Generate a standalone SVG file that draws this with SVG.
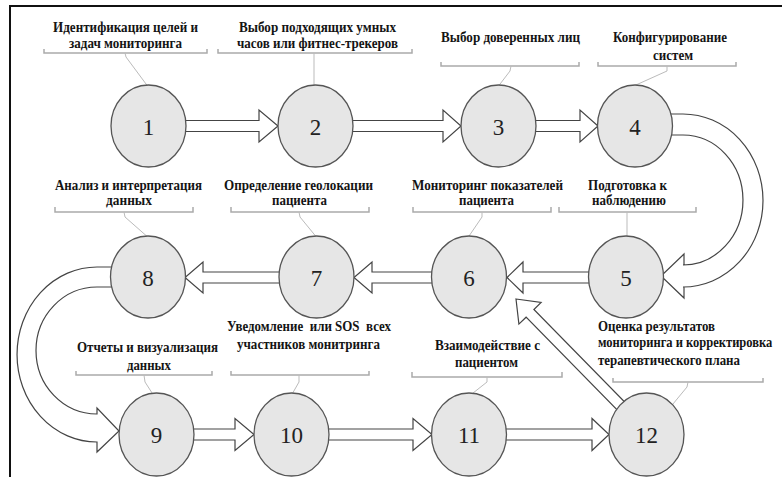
<svg xmlns="http://www.w3.org/2000/svg" width="782" height="477" viewBox="0 0 782 477">
<style>
.node ellipse{fill:#e6e6e6;stroke:#555;stroke-width:1.3}
.num{font-family:"Liberation Serif","Times New Roman",serif;font-size:23px;text-anchor:middle;fill:#222}
.lbl{font-family:"Liberation Serif","Times New Roman",serif;font-weight:bold;font-size:15px;fill:#141414}
.c{text-anchor:middle}
.br{fill:none;stroke:#aaa;stroke-width:1.5}
.ld{fill:none;stroke:#bbb;stroke-width:1}
.arr{fill:#fff;stroke:#444;stroke-width:1.2;stroke-linejoin:miter}
.frame{fill:none;stroke:#111;stroke-width:2}
</style>
<rect x="0" y="0" width="782" height="477" fill="#fff"/>
<path class="frame" d="M10,477 L10,6 L782,6"/>
<g id="connectors">
<polygon class="arr" points="180,120.5 259,120.5 259,110 278,126 259,142 259,131.5 180,131.5"/>
<polygon class="arr" points="348,120.5 443,120.5 443,110 461,126 443,142 443,131.5 348,131.5"/>
<polygon class="arr" points="530,120.5 580,120.5 580,110 598,126 580,142 580,131.5 530,131.5"/>
<path class="arr" d="M668,114 L683,114 A80,86.5 0 0 1 683,287 L684,287 L684,298 L661,276 L684,254 L684,265 L683,265 A60,65 0 0 0 683,135 L668,135 Z"/>
<polygon class="arr" points="595,272 523,272 523,262 507,277.5 523,293 523,283 595,283"/>
<polygon class="arr" points="437,272 372,272 372,262 354,277.5 372,293 372,283 437,283"/>
<polygon class="arr" points="285,272 203,272 203,262 185,277.5 203,293 203,283 285,283"/>
<path class="arr" d="M115,267 L97,267 A80,87.5 0 0 0 97,442 L97,452 L119,431 L97,408 L97,414 A61,63.5 0 0 1 97,287 L115,287 Z"/>
<polygon class="arr" points="188,429 235,429 235,418.5 254,434.5 235,450.5 235,440 188,440"/>
<polygon class="arr" points="323,429 413,429 413,418.5 432,434.5 413,450.5 413,440 323,440"/>
<polygon class="arr" points="500,429 592,429 592,418.5 609,434.5 592,450.5 592,440 500,440"/>
<polygon class="arr" points="516,299 541.1,302.4 533.9,309.5 628.4,405.8 620.6,413.5 526.1,317.2 518.9,324.1"/>
</g>
<g id="node1" class="node">
<text class="lbl c" x="125.5" y="32" textLength="145" lengthAdjust="spacingAndGlyphs">Идентификация целей и</text>
<text class="lbl c" x="125.5" y="47.5" textLength="113" lengthAdjust="spacingAndGlyphs">задач мониторинга</text>
<path class="br" d="M44,49 L44,53 L207,53 L207,49"/>
<polyline class="ld" points="125,53 126,57 149,88"/>
<ellipse cx="148.5" cy="126" rx="37.5" ry="41"/>
<text class="num" x="148.5" y="135">1</text>
</g>
<g id="node2" class="node">
<text class="lbl c" x="317.5" y="32" textLength="157" lengthAdjust="spacingAndGlyphs">Выбор подходящих умных</text>
<text class="lbl c" x="317.5" y="47.5" textLength="161" lengthAdjust="spacingAndGlyphs">часов или фитнес-трекеров</text>
<path class="br" d="M218,49 L218,53 L412,53 L412,49"/>
<polyline class="ld" points="314,53 314,88"/>
<ellipse cx="315.5" cy="126" rx="37.5" ry="41"/>
<text class="num" x="315.5" y="135">2</text>
</g>
<g id="node3" class="node">
<text class="lbl c" x="510.5" y="42" textLength="139" lengthAdjust="spacingAndGlyphs">Выбор доверенных лиц</text>
<path class="br" d="M441,62 L441,66 L579,66 L579,62"/>
<polyline class="ld" points="511,66 510,71 497,88"/>
<ellipse cx="498.5" cy="126" rx="37.5" ry="41"/>
<text class="num" x="498.5" y="135">3</text>
</g>
<g id="node4" class="node">
<text class="lbl c" x="670" y="42" textLength="114" lengthAdjust="spacingAndGlyphs">Конфигурирование</text>
<text class="lbl c" x="673" y="59.5" textLength="40" lengthAdjust="spacingAndGlyphs">систем</text>
<path class="br" d="M598,62 L598,66 L736,66 L736,62"/>
<polyline class="ld" points="667,66 667,71 627,89"/>
<ellipse cx="635" cy="126" rx="37.5" ry="41"/>
<text class="num" x="635" y="135">4</text>
</g>
<g id="node5" class="node">
<text class="lbl c" x="627.5" y="190" textLength="79" lengthAdjust="spacingAndGlyphs">Подготовка к</text>
<text class="lbl c" x="629" y="205" textLength="74" lengthAdjust="spacingAndGlyphs">наблюдению</text>
<path class="br" d="M559,207 L559,212 L696,212 L696,207"/>
<polyline class="ld" points="627,212 627,240"/>
<ellipse cx="626" cy="277" rx="37.5" ry="41"/>
<text class="num" x="626" y="286">5</text>
</g>
<g id="node6" class="node">
<text class="lbl c" x="487.5" y="190" textLength="151" lengthAdjust="spacingAndGlyphs">Мониторинг показателей</text>
<text class="lbl c" x="486.5" y="205" textLength="55" lengthAdjust="spacingAndGlyphs">пациента</text>
<path class="br" d="M413,207 L413,212 L551,212 L551,207"/>
<polyline class="ld" points="482,212 482,217 467,239"/>
<ellipse cx="469" cy="277" rx="37.5" ry="41"/>
<text class="num" x="469" y="286">6</text>
</g>
<g id="node7" class="node">
<text class="lbl c" x="298.5" y="190" textLength="149" lengthAdjust="spacingAndGlyphs">Определение геолокации</text>
<text class="lbl c" x="299.5" y="205" textLength="55" lengthAdjust="spacingAndGlyphs">пациента</text>
<path class="br" d="M231,207 L231,212 L369,212 L369,207"/>
<polyline class="ld" points="299,212 300,217 318,239"/>
<ellipse cx="316.5" cy="277" rx="37.5" ry="41"/>
<text class="num" x="316.5" y="286">7</text>
</g>
<g id="node8" class="node">
<text class="lbl c" x="128.5" y="190" textLength="147" lengthAdjust="spacingAndGlyphs">Анализ и интерпретация</text>
<text class="lbl c" x="129" y="205" textLength="46" lengthAdjust="spacingAndGlyphs">данных</text>
<path class="br" d="M55,207 L55,212 L193,212 L193,207"/>
<polyline class="ld" points="124,212 125,217 150,239"/>
<ellipse cx="148" cy="277" rx="37.5" ry="41"/>
<text class="num" x="148" y="286">8</text>
</g>
<g id="node9" class="node">
<text class="lbl c" x="147.5" y="352" textLength="141" lengthAdjust="spacingAndGlyphs">Отчеты и визуализация</text>
<text class="lbl c" x="149" y="370" textLength="44" lengthAdjust="spacingAndGlyphs">данных</text>
<path class="br" d="M76,371 L76,375 L212,375 L212,371"/>
<polyline class="ld" points="144,375 145,382 154,396"/>
<ellipse cx="156.5" cy="434.5" rx="37.5" ry="41.5"/>
<text class="num" x="156.5" y="443">9</text>
</g>
<g id="node10" class="node">
<text class="lbl c" x="309" y="331" textLength="164" lengthAdjust="spacingAndGlyphs" xml:space="preserve">Уведомление  или SOS  всех</text>
<text class="lbl c" x="308.5" y="349" textLength="143" lengthAdjust="spacingAndGlyphs">участников монитринга</text>
<path class="br" d="M231,371 L231,375 L369,375 L369,371"/>
<polyline class="ld" points="299,375 299,382 291,396"/>
<ellipse cx="291.5" cy="434.5" rx="37.5" ry="41.5"/>
<text class="num" x="291.5" y="443">10</text>
</g>
<g id="node11" class="node">
<text class="lbl c" x="487.5" y="350" textLength="105" lengthAdjust="spacingAndGlyphs">Взаимодействие с</text>
<text class="lbl c" x="486.5" y="367" textLength="63" lengthAdjust="spacingAndGlyphs">пациентом</text>
<path class="br" d="M412,372 L412,377 L562,377 L562,372"/>
<polyline class="ld" points="487,377 487,382 468,397"/>
<ellipse cx="469" cy="434.5" rx="37.5" ry="41.5"/>
<text class="num" x="469" y="443">11</text>
</g>
<g id="node12" class="node">
<text class="lbl" x="598" y="331" textLength="117" lengthAdjust="spacingAndGlyphs">Оценка результатов</text>
<text class="lbl" transform="translate(598,347) scale(0.83,1)" textLength="210" lengthAdjust="spacingAndGlyphs">мониторинга и корректировка</text>
<text class="lbl" x="598" y="365" textLength="142" lengthAdjust="spacingAndGlyphs">терапевтического плана</text>
<path class="br" d="M613,378 L613,382 L763,382 L763,378"/>
<polyline class="ld" points="688,382 687,387 668,410"/>
<ellipse cx="646.5" cy="434.5" rx="37.5" ry="41.5"/>
<text class="num" x="646.5" y="443">12</text>
</g>
</svg>
